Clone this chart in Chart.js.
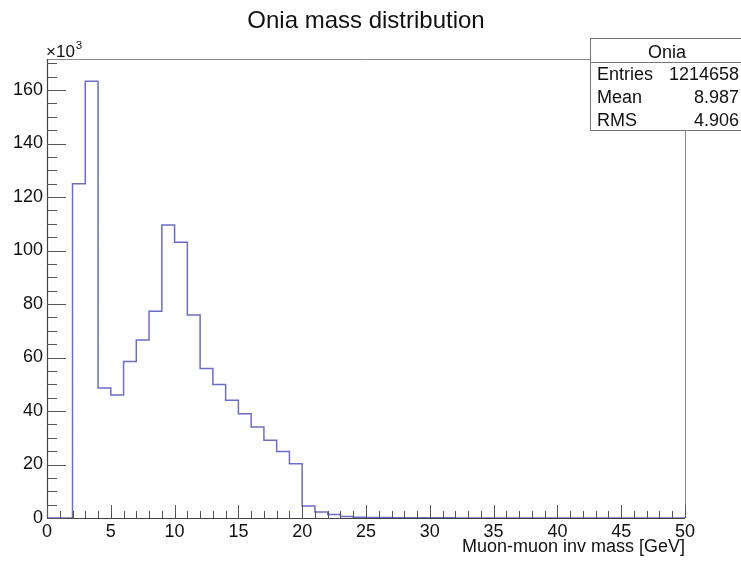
<!DOCTYPE html>
<html>
<head>
<meta charset="utf-8">
<script src="https://cdn.jsdelivr.net/npm/chart.js@4/dist/chart.umd.min.js"></script>
<style>
  html, body { margin: 0; padding: 0; background: #fff; }
  #wrap { width: 741px; height: 561px; position: relative; }
</style>
</head>
<body>
<div id="wrap"><canvas id="hist"></canvas></div>
<script>
// bin edges in GeV, one bin per GeV from 0 to 50
const binLow = [];
for (let i = 0; i <= 50; i++) binLow.push(i);

// bin contents, in thousands of entries
const counts = [
  0, 0, 125.0, 163.3, 48.6, 46.0, 58.5, 66.5, 77.3, 109.5,
  103.1, 75.9, 55.9, 49.9, 44.0, 39.0, 34.0, 29.1, 24.9, 20.3,
  4.5, 2.2, 1.3, 0.6, 0.3, 0.2, 0.15, 0.1, 0.1, 0.08,
  0.06, 0.05, 0.04, 0.04, 0.03, 0.03, 0.02, 0.02, 0.02, 0.01,
  0.01, 0.01, 0.01, 0.01, 0.0, 0.0, 0.0, 0.0, 0.0, 0.0
];

const xTicks = [0, 5, 10, 15, 20, 25, 30, 35, 40, 45, 50];
const yTicks = [0, 20, 40, 60, 80, 100, 120, 140, 160];

const histTitle = 'Onia mass distribution';
const xTitle = 'Muon-muon inv mass [GeV]';
const statsName = 'Onia';
const statsLabels = ['Entries', 'Mean', 'RMS'];
const statsValues = ['1214658', '8.987', '4.906'];

// step outline: left edge of each bin, plus the closing right edge
const outline = counts.map((c, i) => ({ x: binLow[i], y: c }));
outline.push({ x: binLow[50], y: counts[49] });

const FONT = "'Liberation Sans', Arial, Helvetica, sans-serif";

// ROOT-style frame: inward ticks, title, exponent and stats box
const rootFrame = {
  id: 'rootFrame',
  afterDraw(chart) {
    const { ctx, chartArea: a, scales: { x, y } } = chart;
    ctx.save();

    // frame
    ctx.lineWidth = 1;
    ctx.strokeStyle = '#8a8a8a';
    ctx.beginPath();
    ctx.moveTo(a.left, a.top + 0.5);
    ctx.lineTo(a.right + 0.5, a.top + 0.5);
    ctx.lineTo(a.right + 0.5, a.bottom);
    ctx.stroke();
    ctx.strokeStyle = '#444';
    ctx.lineWidth = 1.2;
    ctx.beginPath();
    ctx.moveTo(a.left + 0.5, a.top);
    ctx.lineTo(a.left + 0.5, a.bottom + 0.5);
    ctx.lineTo(a.right, a.bottom + 0.5);
    ctx.stroke();

    // ticks pointing into the frame
    ctx.strokeStyle = '#555';
    ctx.lineWidth = 1;
    ctx.beginPath();
    for (let v = 0; v <= 50; v++) {
      const px = Math.round(x.getPixelForValue(v)) + 0.5;
      const len = v % 5 === 0 ? 13 : 7;
      ctx.moveTo(px, a.bottom);
      ctx.lineTo(px, a.bottom - len);
    }
    for (let v = 0; v <= 170; v += 5) {
      const py = Math.round(y.getPixelForValue(v)) + 0.5;
      const len = v % 20 === 0 ? 19 : 10;
      ctx.moveTo(a.left, py);
      ctx.lineTo(a.left + len, py);
    }
    ctx.stroke();

    ctx.fillStyle = '#111';
    // title
    ctx.font = '24px ' + FONT;
    ctx.textAlign = 'center';
    ctx.textBaseline = 'alphabetic';
    ctx.fillText(histTitle, 366, 28);

    // x10^3 exponent above the y axis
    ctx.textAlign = 'left';
    ctx.font = '17px ' + FONT;
    ctx.fillText('\u00d710', 46, 57);
    const w = ctx.measureText('\u00d710').width;
    ctx.font = '11.5px ' + FONT;
    ctx.fillText('3', 46 + w + 1, 49);

    // stats box
    const bx = 590, by = 38, bw = 160, bh = 92;
    ctx.fillStyle = '#fff';
    ctx.fillRect(bx, by, bw, bh);
    ctx.strokeStyle = '#777';
    ctx.lineWidth = 1;
    ctx.strokeRect(bx + 0.5, by + 0.5, bw, bh);
    ctx.beginPath();
    ctx.moveTo(bx, 62.5);
    ctx.lineTo(bx + bw, 62.5);
    ctx.stroke();

    ctx.fillStyle = '#111';
    ctx.font = '18px ' + FONT;
    ctx.textAlign = 'center';
    ctx.fillText(statsName, 667, 58);
    const rows = [80, 103, 126];
    statsLabels.forEach((lab, i) => {
      ctx.textAlign = 'left';
      ctx.fillText(lab, 597, rows[i]);
      ctx.textAlign = 'right';
      ctx.fillText(statsValues[i], 739, rows[i]);
    });

    ctx.restore();
  }
};

new Chart(document.getElementById('hist'), {
  type: 'line',
  data: {
    datasets: [{
      label: statsName,
      data: outline,
      stepped: true,
      borderColor: '#6c6cc9',
      borderWidth: 1.5,
      pointRadius: 0,
      fill: false,
      tension: 0
    }]
  },
  options: {
    responsive: true,
    maintainAspectRatio: false,
    animation: false,
    layout: { padding: { top: 59, right: 56, left: 0, bottom: 0 } },
    plugins: {
      legend: { display: false },
      tooltip: { enabled: false }
    },
    scales: {
      x: {
        type: 'linear',
        min: 0,
        max: 50,
        grid: { display: false, drawTicks: false },
        border: { display: false },
        afterFit: s => { s.height = 43; },
        afterBuildTicks: s => { s.ticks = xTicks.map(v => ({ value: v })); },
        ticks: {
          padding: 3,
          color: '#111',
          maxRotation: 0,
          autoSkip: false,
          font: { family: FONT, size: 18 }
        },
        title: {
          display: true,
          text: xTitle,
          align: 'end',
          color: '#111',
          padding: { top: 0, bottom: 3 },
          font: { family: FONT, size: 18 }
        }
      },
      y: {
        min: 0,
        max: 171.6,
        grid: { display: false, drawTicks: false },
        border: { display: false },
        afterFit: s => { s.width = 47; },
        afterBuildTicks: s => { s.ticks = yTicks.map(v => ({ value: v })); },
        ticks: {
          padding: 4,
          color: '#111',
          autoSkip: false,
          font: { family: FONT, size: 18 }
        }
      }
    }
  },
  plugins: [rootFrame]
});
</script>
</body>
</html>
